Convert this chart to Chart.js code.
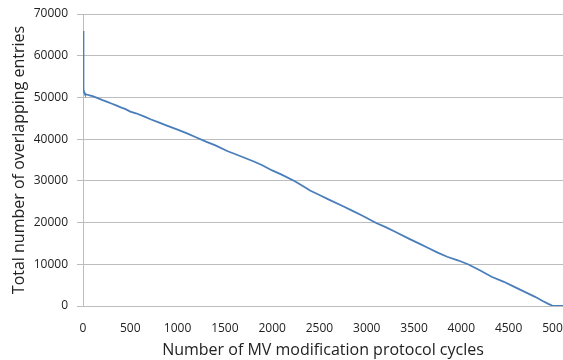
<!DOCTYPE html>
<html>
<head>
<meta charset="utf-8">
<script src="https://cdn.jsdelivr.net/npm/chart.js@4/dist/chart.umd.min.js"></script>
<style>
  html, body { margin: 0; padding: 0; background: #fff; }
  #wrap { width: 563px; height: 360px; }
</style>
</head>
<body>
<div id="wrap"><canvas id="chart" width="563" height="360"></canvas></div>
<script>
'use strict';

// cycle number and total overlapping entries
const cycles = [0, 2, 4, 6, 8, 12, 20, 40, 70, 100, 150, 200, 250, 300, 350, 400, 450, 500,
  560, 650, 720, 800, 880, 1000, 1100, 1200, 1300, 1400, 1530, 1600, 1700, 1800, 1890,
  2000, 2100, 2240, 2350, 2400, 2500, 2600, 2750, 2850, 2950, 3100, 3200, 3300, 3450,
  3550, 3650, 3750, 3850, 3970, 4070, 4200, 4320, 4450, 4550, 4670, 4780, 4860, 4920,
  4960, 5000, 5075];
const entries = [65900, 62000, 57000, 53500, 52000, 51200, 50800, 50700, 50500, 50300,
  49900, 49400, 49000, 48550, 48100, 47600, 47200, 46600, 46200, 45400, 44700, 44000,
  43300, 42300, 41400, 40400, 39400, 38500, 37100, 36500, 35600, 34700, 33800, 32500,
  31500, 29900, 28400, 27700, 26600, 25500, 23900, 22800, 21700, 19900, 18900, 17800,
  16100, 15000, 13900, 12800, 11800, 10900, 10000, 8500, 7000, 5800, 4700, 3400, 2200,
  1200, 500, 100, 0, 0];

const xTicks = [0, 500, 1000, 1500, 2000, 2500, 3000, 3500, 4000, 4500, 5000];
const yTicks = [0, 10000, 20000, 30000, 40000, 50000, 60000, 70000];

const font = 'Open Sans';
const gridColor = '#bdbdbd';
const lineColor = '#4a7ebb';
const plain = v => String(v);

new Chart(document.getElementById('chart'), {
  type: 'line',
  data: {
    datasets: [{
      data: cycles.map((c, i) => ({ x: c, y: entries[i] })),
      borderColor: lineColor,
      borderWidth: 1.8,
      pointRadius: 0,
      tension: 0,
      fill: false,
    }],
  },
  options: {
    responsive: false,
    animation: false,
    devicePixelRatio: 1,
    layout: { padding: { top: 14, right: 0, bottom: 0, left: 0 } },
    plugins: { legend: { display: false }, tooltip: { enabled: false } },
    scales: {
      x: {
        type: 'linear',
        min: 0,
        max: 5075,
        afterBuildTicks: scale => { scale.ticks = xTicks.map(v => ({ value: v })); },
        afterFit: scale => {
          scale.height = 54;
          scale.paddingLeft = 0;
          scale.paddingRight = 0;
        },
        grid: { display: false, drawTicks: false },
        border: { display: true, color: gridColor, width: 1 },
        ticks: {
          autoSkip: false,
          maxRotation: 0,
          padding: 15,
          color: '#222',
          font: { family: font, size: 12 },
          callback: plain,
        },
        title: {
          display: true,
          text: 'Number of MV modification protocol cycles',
          color: '#222',
          font: { family: font, size: 16 },
          padding: { top: 0, bottom: 0 },
        },
      },
      y: {
        min: 0,
        max: 70000,
        afterBuildTicks: scale => { scale.ticks = yTicks.map(v => ({ value: v })); },
        afterFit: scale => {
          scale.width = 83;
          scale.paddingTop = 0;
          scale.paddingBottom = 0;
        },
        grid: { color: gridColor, lineWidth: 1, drawTicks: true, tickLength: 6 },
        border: { display: true, color: gridColor, width: 1 },
        ticks: {
          padding: 9,
          color: '#222',
          font: { family: font, size: 12 },
          callback: plain,
        },
        title: {
          display: true,
          text: 'Total number of overlapping entries',
          color: '#222',
          font: { family: font, size: 16 },
          padding: { top: 10, bottom: 0 },
        },
      },
    },
  },
});
</script>
</body>
</html>
